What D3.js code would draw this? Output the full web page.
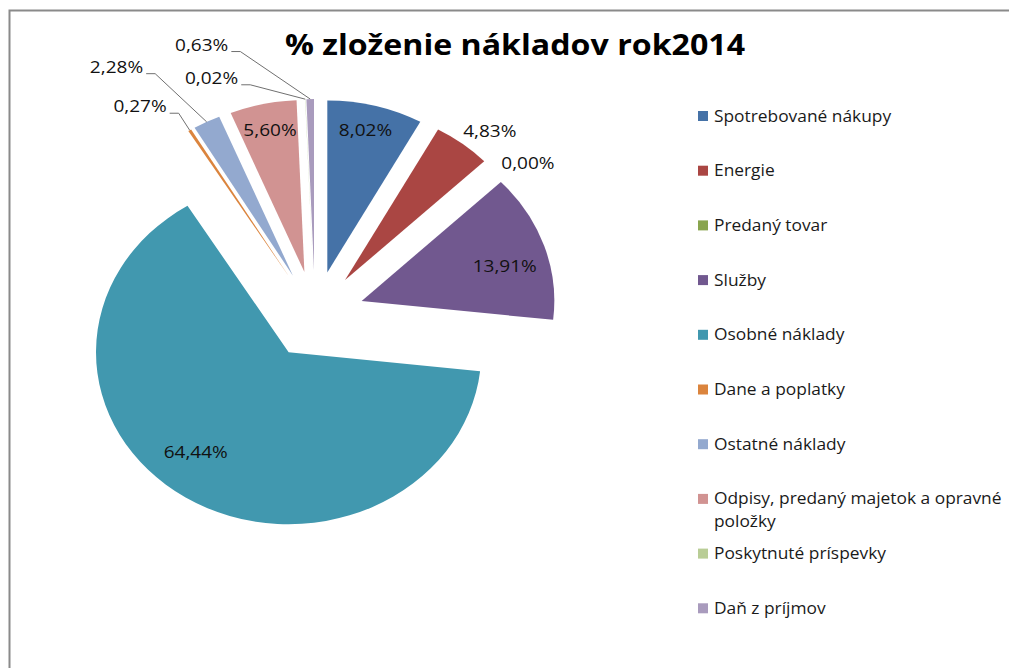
<!DOCTYPE html>
<html>
<head>
<meta charset="utf-8">
<script src="https://cdn.jsdelivr.net/npm/d3@7"></script>
<style>
  html, body { margin: 0; padding: 0; background: #fff; }
  svg { display: block; font-family: "Open Sans", sans-serif; }
</style>
</head>
<body>
<svg id="chart" width="1009" height="668"></svg>
<script>
// data
var title = "% zloženie nákladov rok2014";
var categories = ["Spotrebované nákupy", "Energie", "Predaný tovar", "Služby", "Osobné náklady",
                  "Dane a poplatky", "Ostatné náklady", "Odpisy, predaný majetok a opravné položky",
                  "Poskytnuté príspevky", "Daň z príjmov"];
var shares = [8.02, 4.83, 0.00, 13.91, 64.44, 0.27, 2.28, 5.60, 0.02, 0.63];
var colors = ["#4572A7", "#AA4643", "#89A54E", "#71588F", "#4198AF",
              "#DB843D", "#93A9CF", "#D19392", "#B9CD96", "#A99BBD"];

// where Excel put each data label: angle (deg, clockwise from top) and radius as part of R
// leader labels are measured from the pie centre, the others from their own exploded slice
var labelSpots = [
  {a: 13.5, r: 0.85}, {a: 40.8, r: 1.15}, {a: 52.5, r: 1.16}, {a: 74.7, r: 0.77},
  {a: 219.7, r: 0.755}, {a: 328.9, r: 1.37, leader: true}, {a: 329.4, r: 1.63, leader: true},
  {a: 347.8, r: 0.845}, {a: 345.9, r: 1.38, leader: true}, {a: 345.8, r: 1.58, leader: true}
];

var svg = d3.select("#chart");
var sx = 1.12;          // picture is stretched horizontally
var cx = 315, cy = 315; // pie centre
var R = 172, explode = 44;

var fmt = function (v) { return d3.format(".2f")(v).replace(".", ",") + "%"; };

// frame
svg.append("path")
  .attr("d", "M9.5,668V10.5H1009")
  .attr("fill", "none")
  .attr("stroke", "#8a8a8a")
  .attr("stroke-width", 2);

// title
svg.append("text")
  .attr("transform", "translate(515,55) scale(" + sx + ",1)")
  .attr("text-anchor", "middle")
  .attr("font-weight", "bold")
  .attr("font-size", 28.7)
  .attr("fill", "#000")
  .text(title);

var pie = d3.pie().sort(null).value(function (d) { return d; });
var arcs = pie(shares);
var arc = d3.arc().innerRadius(0).outerRadius(R);

function polar(x0, y0, deg, r) {
  var t = deg * Math.PI / 180;
  return [x0 + sx * r * Math.sin(t), y0 - r * Math.cos(t)];
}

arcs.forEach(function (a) {
  a.mid = (a.startAngle + a.endAngle) / 2 * 180 / Math.PI;
  a.apex = polar(cx, cy, a.mid, explode);
});

var g = svg.append("g");
g.selectAll("path.slice")
  .data(arcs)
  .enter()
  .append("path")
  .attr("class", "slice")
  .attr("d", arc)
  .attr("transform", function (d) { return "translate(" + d.apex[0] + "," + d.apex[1] + ") scale(" + sx + ",1)"; })
  .attr("fill", function (d, i) { return colors[i]; });

// data labels
var lab = svg.append("g").attr("font-size", 17).attr("fill", "#111");
arcs.forEach(function (a, i) {
  var spot = labelSpots[i];
  if (spot.leader) {
    var elbow = polar(cx, cy, spot.a, spot.r * R);
    var edge = polar(a.apex[0], a.apex[1], a.mid, R);
    svg.append("path")
      .attr("d", "M" + (elbow[0] - 9) + "," + elbow[1] + "H" + elbow[0] + "L" + edge[0] + "," + edge[1])
      .attr("fill", "none")
      .attr("stroke", "#707070")
      .attr("stroke-width", 1);
    lab.append("text")
      .attr("transform", "translate(" + (elbow[0] - 12) + "," + (elbow[1] - 1) + ") scale(" + sx + ",1)")
      .attr("text-anchor", "end")
      .text(fmt(shares[i]));
  } else {
    var p = polar(a.apex[0], a.apex[1], spot.a, spot.r * R);
    lab.append("text")
      .attr("transform", "translate(" + p[0] + "," + p[1] + ") scale(" + sx + ",1)")
      .attr("text-anchor", "middle")
      .attr("dy", "0.36em")
      .text(fmt(shares[i]));
  }
});

// legend
var legX = 698, legY = 116, legStep = 54.7, legMax = 288;
var legend = svg.append("g").attr("font-size", 15.5).attr("fill", "#1a1a1a");
categories.forEach(function (name, i) {
  var y = legY + i * legStep;
  legend.append("rect")
    .attr("x", legX).attr("y", y - 5)
    .attr("width", 10).attr("height", 10)
    .attr("fill", colors[i]);
  var t = legend.append("text")
    .attr("transform", "translate(" + (legX + 16) + "," + y + ") scale(" + sx + ",1)")
    .attr("dy", "0.36em");
  // wrap words the way Excel does
  var words = name.split(" "), line = [], tspan = t.append("tspan").attr("x", 0);
  words.forEach(function (w) {
    line.push(w);
    tspan.text(line.join(" "));
    if (tspan.node().getComputedTextLength() * sx > legMax && line.length > 1) {
      line.pop();
      tspan.text(line.join(" "));
      line = [w];
      tspan = t.append("tspan").attr("x", 0).attr("dy", "1.45em").text(w);
    }
  });
});
</script>
</body>
</html>
